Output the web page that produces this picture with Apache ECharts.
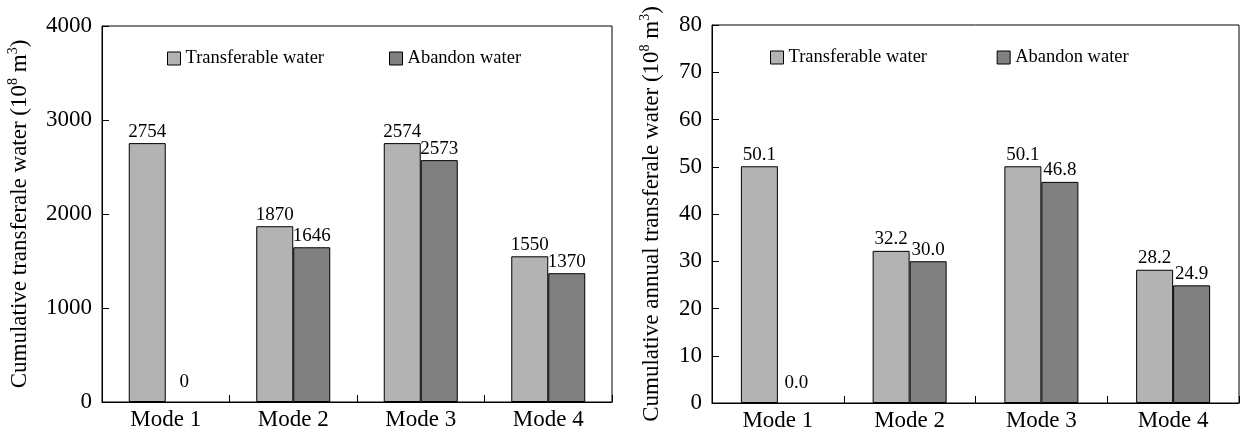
<!DOCTYPE html>
<html>
<head>
<meta charset="utf-8">
<script src="https://cdn.jsdelivr.net/npm/echarts@6/dist/echarts.min.js"></script>
<style>
html,body{margin:0;padding:0;background:#fff;}
#c{width:1243px;height:432px;}
</style>
</head>
<body>
<div id="c"></div>
<script>
const categories = ['Mode 1', 'Mode 2', 'Mode 3', 'Mode 4'];
const seriesNames = ['Transferable water', 'Abandon water'];
// Left chart: cumulative transferable water (10^8 m^3)
const leftTransferable = [2754, 1870, 2754, 1550];
const leftAbandon = [0, 1646, 2573, 1370];
const leftTransferableLabels = ['2754', '1870', '2574', '1550'];
const leftAbandonLabels = ['0', '1646', '2573', '1370'];
// Right chart: cumulative annual transferable water (10^8 m^3)
const rightTransferable = [50.1, 32.2, 50.1, 28.2];
const rightAbandon = [0.0, 30.0, 46.8, 24.9];
const rightTransferableLabels = ['50.1', '32.2', '50.1', '28.2'];
const rightAbandonLabels = ['0.0', '30.0', '46.8', '24.9'];
const leftTicks = {min: 0, max: 4000, interval: 1000};
const rightTicks = {min: 0, max: 80, interval: 10};

const FONT = 'Liberation Serif';
const LIGHT = '#b3b3b3';
const DARK = '#808080';

function items(vals, labels) {
  return vals.map((v, i) => {
    const it = {value: v, labelText: labels[i]};
    if (v === 0) {
      it.label = {offset: [0, -8]};
      it.itemStyle = {borderWidth: 0};
    }
    return it;
  });
}

function makeSeries(idx, name, vals, labels, color) {
  return {
    type: 'bar', name: name, xAxisIndex: idx, yAxisIndex: idx,
    barWidth: 37, barGap: '0%',
    itemStyle: {color: color, borderColor: '#000', borderWidth: 1},
    label: {
      show: true, position: 'top', distance: 2, color: '#000',
      fontFamily: FONT, fontSize: 19,
      formatter: p => p.data.labelText
    },
    data: items(vals, labels)
  };
}

const axisNameRich = {
  n: {fontFamily: FONT, fontSize: 23, color: '#000', lineHeight: 28},
  sup: {fontFamily: FONT, fontSize: 14, color: '#000', lineHeight: 28, verticalAlign: 'top'}
};

function xAxis(idx) {
  return {
    type: 'category', gridIndex: idx, data: categories,
    axisLine: {show: true, lineStyle: {color: '#000', width: 1}},
    axisTick: {show: true, inside: true, length: 7, lineStyle: {color: '#000'}},
    axisLabel: {color: '#000', fontFamily: FONT, fontSize: 23, margin: 6},
    splitLine: {show: false}
  };
}
function yAxis(idx, ticks, nameText, gap) {
  return {
    type: 'value', gridIndex: idx, min: ticks.min, max: ticks.max, interval: ticks.interval,
    name: nameText, nameLocation: 'middle', nameGap: gap,
    nameTextStyle: {rich: axisNameRich},
    axisLine: {show: true, lineStyle: {color: '#000', width: 1}},
    axisTick: {show: true, inside: true, length: 7, lineStyle: {color: '#000'}},
    axisLabel: {color: '#000', fontFamily: FONT, fontSize: 23, margin: 10, formatter: v => String(v)},
    splitLine: {show: false}
  };
}

function legend(idx, left, top) {
  return {
    show: true, left: left, top: top, padding: 0, itemGap: 65, itemWidth: 13, itemHeight: 13,
    icon: 'rect',
    textStyle: {color: '#000', fontFamily: FONT, fontSize: 18.5},
    data: seriesNames.map((n, i) => ({name: n + (idx ? ' ' : ''), itemStyle: {color: i ? DARK : LIGHT, borderColor: '#000', borderWidth: 1}}))
  };
}

const chart = echarts.init(document.getElementById('c'), null, {renderer: 'canvas'});
chart.setOption({
  animation: false,
  backgroundColor: '#fff',
  grid: [
    {left: 102, top: 26, width: 510, height: 376, show: true, borderColor: '#000', borderWidth: 1, backgroundColor: 'transparent'},
    {left: 712, top: 25, width: 527, height: 379, show: true, borderColor: '#000', borderWidth: 1, backgroundColor: 'transparent'}
  ],
  legend: [legend(0, 167, 49), legend(1, 770, 48)],
  xAxis: [xAxis(0), xAxis(1)],
  yAxis: [
    yAxis(0, leftTicks, '{n|Cumulative transferale water (10}{sup|8}{n| m}{sup|3}{n|)}', 68),
    yAxis(1, rightTicks, '{n|Cumulative annual transferale water (10}{sup|8}{n| m}{sup|3}{n|)}', 46)
  ],
  series: [
    makeSeries(0, seriesNames[0], leftTransferable, leftTransferableLabels, LIGHT),
    makeSeries(0, seriesNames[1], leftAbandon, leftAbandonLabels, DARK),
    makeSeries(1, seriesNames[0] + ' ', rightTransferable, rightTransferableLabels, LIGHT),
    makeSeries(1, seriesNames[1] + ' ', rightAbandon, rightAbandonLabels, DARK)
  ]
});
</script>
</body>
</html>
